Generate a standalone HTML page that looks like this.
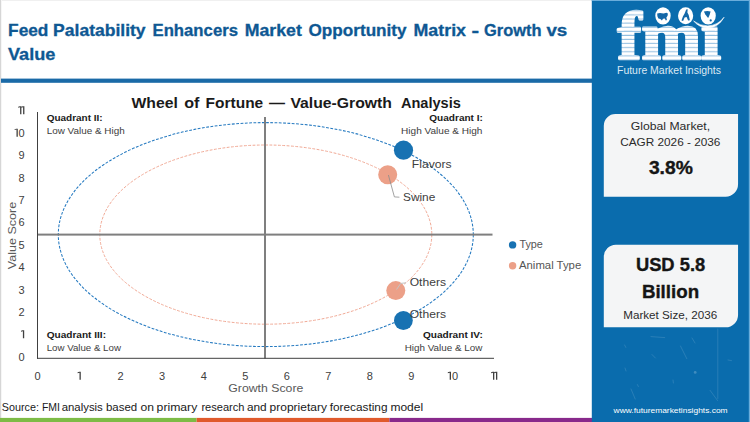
<!DOCTYPE html>
<html>
<head>
<meta charset="utf-8">
<style>
html,body{margin:0;padding:0;background:#fff;}
body{width:750px;height:422px;overflow:hidden;position:relative;font-family:"Liberation Sans",sans-serif;}
svg{position:absolute;left:0;top:0;}
text{font-family:"Liberation Sans",sans-serif;}
text.serif{font-family:"Liberation Serif",serif;}
</style>
</head>
<body>
<svg width="750" height="422" viewBox="0 0 750 422">
  <defs>
    <pattern id="stripes" x="0" y="11.3" width="10" height="4.1" patternUnits="userSpaceOnUse">
      <rect x="0" y="0" width="10" height="3.2" fill="#ffffff"/>
      <rect x="0" y="3.2" width="10" height="0.9" fill="#8fbde0"/>
    </pattern>
  </defs>
  <!-- page bg + border -->
  <rect x="0" y="0" width="750" height="422" fill="#ffffff"/>
  <rect x="0" y="0" width="592" height="1" fill="#f0f0f0"/>
  <rect x="0" y="0" width="1" height="422" fill="#d6d6d6"/>
  <rect x="1" y="0" width="1" height="422" fill="#f6f6f6"/>

  <!-- title -->
  <g fill="#0e5893" stroke="#0e5893" stroke-width="0.3" font-weight="bold" font-size="15.9">
    <text x="8.1" y="35.7" textLength="40.3" lengthAdjust="spacingAndGlyphs">Feed</text>
    <text x="53.1" y="35.7" textLength="92.5" lengthAdjust="spacingAndGlyphs">Palatability</text>
    <text x="152.5" y="35.7" textLength="85.5" lengthAdjust="spacingAndGlyphs">Enhancers</text>
    <text x="244.7" y="35.7" textLength="57.1" lengthAdjust="spacingAndGlyphs">Market</text>
    <text x="308.5" y="35.7" textLength="98.1" lengthAdjust="spacingAndGlyphs">Opportunity</text>
    <text x="413.5" y="35.7" textLength="52.5" lengthAdjust="spacingAndGlyphs">Matrix</text>
    <text x="471.6" y="35.7" textLength="7.6" lengthAdjust="spacingAndGlyphs">-</text>
    <text x="484.0" y="35.7" textLength="57.6" lengthAdjust="spacingAndGlyphs">Growth</text>
    <text x="546.4" y="35.7" textLength="20.9" lengthAdjust="spacingAndGlyphs">vs</text>
    <text x="8" y="60.3" textLength="47.4" lengthAdjust="spacingAndGlyphs">Value</text>
  </g>
  <rect x="1" y="78.6" width="591" height="4.2" fill="#1a6aa7"/>

  <!-- chart title -->
  <g font-size="15.2" font-weight="bold" fill="#1a1a1a">
    <text x="131.4" y="107.8" textLength="46.4" lengthAdjust="spacingAndGlyphs">Wheel</text>
    <text x="184.2" y="107.8" textLength="15.2" lengthAdjust="spacingAndGlyphs">of</text>
    <text x="205.6" y="107.8" textLength="57.6" lengthAdjust="spacingAndGlyphs">Fortune</text>
    <text x="269.1" y="107.8" textLength="16.0" lengthAdjust="spacingAndGlyphs">—</text>
    <text x="290.4" y="107.8" textLength="101.6" lengthAdjust="spacingAndGlyphs">Value-Growth</text>
    <text x="400.9" y="107.8" textLength="60.0" lengthAdjust="spacingAndGlyphs">Analysis</text>
  </g>

  <!-- ellipses -->
  <ellipse cx="265.8" cy="234.6" rx="207.5" ry="112" fill="none" stroke="#2479c0" stroke-width="1.05" stroke-dasharray="2.8 1.5"/>
  <ellipse cx="265.8" cy="234.6" rx="166" ry="89.6" fill="none" stroke="#f1a995" stroke-width="1" stroke-dasharray="2.8 1.5"/>

  <!-- mid lines -->
  <rect x="264" y="117" width="2" height="241.5" fill="#7f7f7f"/>
  <rect x="37.5" y="233.6" width="455" height="2" fill="#7f7f7f"/>
  <!-- axes -->
  <rect x="37" y="112" width="1" height="246.8" fill="#404040"/>
  <rect x="37" y="357.8" width="457" height="1" fill="#404040"/>

  <!-- y labels -->
  <g font-size="11" fill="#404040" text-anchor="end">
    <path d="M24.4,114.3 v-8 h-1.6 l-1.6,0.5 v0.9 l1.9,-0.5 v7.1 z"/><path d="M21.4,114.3 v-8 h-1.6 l-1.6,0.5 v0.9 l1.9,-0.5 v7.1 z"/>
    <path d="M17.8,136.7 v-8 h-1.6 l-1.6,0.5 v0.9 l1.9,-0.5 v7.1 z"/><text x="24.6" y="136.7">0</text>
    <text x="24.5" y="159.1">9</text>
    <text x="24.5" y="181.5">8</text>
    <text x="24.5" y="203.9">7</text>
    <text x="24.5" y="226.3">6</text>
    <text x="24.5" y="248.7">5</text>
    <text x="24.5" y="271.1">4</text>
    <text x="24.5" y="293.5">3</text>
    <text x="24.5" y="315.9">2</text>
    <path d="M24.2,338.3 v-8 h-1.6 l-1.6,0.5 v0.9 l1.9,-0.5 v7.1 z"/>
    <text x="24.5" y="360.7">0</text>
  </g>
  <!-- x labels -->
  <g font-size="11" fill="#404040" text-anchor="middle">
    <text x="37.5" y="379.8">0</text>
    <path d="M80.8,379.8 v-8 h-1.6 l-1.6,0.5 v0.9 l1.9,-0.5 v7.1 z"/>
    <text x="120.6" y="379.8">2</text>
    <text x="162.1" y="379.8">3</text>
    <text x="203.7" y="379.8">4</text>
    <text x="245.2" y="379.8">5</text>
    <text x="286.8" y="379.8">6</text>
    <text x="328.3" y="379.8">7</text>
    <text x="369.9" y="379.8">8</text>
    <text x="411.4" y="379.8">9</text>
    <path d="M451,379.8 v-8 h-1.6 l-1.6,0.5 v0.9 l1.9,-0.5 v7.1 z"/><text x="458" y="379.8" text-anchor="end">0</text>
    <path d="M497.3,379.8 v-8 h-1.6 l-1.6,0.5 v0.9 l1.9,-0.5 v7.1 z"/><path d="M494.3,379.8 v-8 h-1.6 l-1.6,0.5 v0.9 l1.9,-0.5 v7.1 z"/>
  </g>
  <text x="228.3" y="391.6" font-size="11.3" fill="#595959" textLength="75" lengthAdjust="spacingAndGlyphs">Growth Score</text>
  <text transform="translate(15.8,269.2) rotate(-90)" font-size="11.3" fill="#595959" textLength="67.4" lengthAdjust="spacingAndGlyphs">Value Score</text>

  <!-- quadrant labels -->
  <g font-size="8.8" fill="#1a1a1a" lengthAdjust="spacingAndGlyphs">
    <text x="46.7" y="120.7" font-weight="bold" textLength="56" lengthAdjust="spacingAndGlyphs">Quadrant II:</text>
    <text x="46.7" y="134" fill="#404040" textLength="78" lengthAdjust="spacingAndGlyphs">Low Value &amp; High</text>
    <text x="46.7" y="337.7" font-weight="bold" textLength="59.3" lengthAdjust="spacingAndGlyphs">Quadrant III:</text>
    <text x="46.7" y="351" fill="#404040" textLength="74.2" lengthAdjust="spacingAndGlyphs">Low Value &amp; Low</text>
    <text x="429.3" y="120.7" font-weight="bold" textLength="53.6" lengthAdjust="spacingAndGlyphs">Quadrant I:</text>
    <text x="401.1" y="134" fill="#404040" textLength="81.3" lengthAdjust="spacingAndGlyphs">High Value &amp; High</text>
    <text x="422.9" y="337.7" font-weight="bold" textLength="60" lengthAdjust="spacingAndGlyphs">Quadrant IV:</text>
    <text x="404.7" y="351" fill="#404040" textLength="77.6" lengthAdjust="spacingAndGlyphs">High Value &amp; Low</text>
  </g>

  <!-- bubbles -->
  <circle cx="403.5" cy="150.2" r="9.6" fill="#1872b2"/>
  <circle cx="387.7" cy="174.8" r="9.5" fill="#eca088"/>
  <circle cx="395.8" cy="290.6" r="9.5" fill="#eca088"/>
  <circle cx="403.4" cy="320.5" r="9.4" fill="#1872b2"/>
  <polyline points="388.4,175 394.4,196.9 399.4,197.2" fill="none" stroke="#8c8c8c" stroke-width="0.8"/>
  <polyline points="396.5,289.5 400.8,283.4 406,282.8" fill="none" stroke="#c4c4c4" stroke-width="1"/>
  <g font-size="11.5" fill="#404040">
    <text x="411.8" y="168" textLength="39.8" lengthAdjust="spacingAndGlyphs">Flavors</text>
    <text x="403" y="201" textLength="32.3" lengthAdjust="spacingAndGlyphs">Swine</text>
    <text x="409.7" y="286" textLength="36.3" lengthAdjust="spacingAndGlyphs">Others</text>
    <text x="409.7" y="317.7" textLength="36.3" lengthAdjust="spacingAndGlyphs">Others</text>
  </g>

  <!-- legend -->
  <circle cx="512.6" cy="244.9" r="3.7" fill="#1872b2"/>
  <circle cx="512.6" cy="265.7" r="3.7" fill="#eca088"/>
  <g font-size="10.7" fill="#555555">
    <text x="519.4" y="247.7" textLength="23.5" lengthAdjust="spacingAndGlyphs">Type</text>
    <text x="519" y="268.8" textLength="62.2" lengthAdjust="spacingAndGlyphs">Animal Type</text>
  </g>

  <!-- source -->
  <g font-size="11" fill="#1a1a1a">
    <text x="1.8" y="410.7" textLength="37.1" lengthAdjust="spacingAndGlyphs">Source:</text>
    <text x="41.9" y="410.7" textLength="18.0" lengthAdjust="spacingAndGlyphs">FMI</text>
    <text x="61.7" y="410.7" textLength="41.1" lengthAdjust="spacingAndGlyphs">analysis</text>
    <text x="106.0" y="410.7" textLength="31.2" lengthAdjust="spacingAndGlyphs">based</text>
    <text x="140.5" y="410.7" textLength="13.5" lengthAdjust="spacingAndGlyphs">on</text>
    <text x="156.6" y="410.7" textLength="40.7" lengthAdjust="spacingAndGlyphs">primary</text>
    <text x="201.4" y="410.7" textLength="43.1" lengthAdjust="spacingAndGlyphs">research</text>
    <text x="246.9" y="410.7" textLength="19.8" lengthAdjust="spacingAndGlyphs">and</text>
    <text x="269.6" y="410.7" textLength="57.3" lengthAdjust="spacingAndGlyphs">proprietary</text>
    <text x="329.7" y="410.7" textLength="57.8" lengthAdjust="spacingAndGlyphs">forecasting</text>
    <text x="390.4" y="410.7" textLength="32.7" lengthAdjust="spacingAndGlyphs">model</text>
  </g>

  <!-- bottom bar -->
  <rect x="0" y="417.9" width="196.6" height="4.1" fill="#7dbb46"/>
  <rect x="196.6" y="417.9" width="192.8" height="4.1" fill="#e05a2c"/>
  <rect x="389.4" y="417.9" width="202.6" height="4.1" fill="#88298b"/>

  <!-- right panel -->
  <rect x="591.8" y="0" width="158.2" height="422" fill="#0a6cad"/>
  <rect x="591.8" y="0" width="158.2" height="1" fill="#6aaddb"/>
  <rect x="748.8" y="0" width="1.2" height="422" fill="#6aaddb"/>

  <!-- faint panel texture -->
  <g stroke="#ffffff" stroke-opacity="0.16" stroke-width="0.8" fill="none" stroke-linecap="round">
    <path d="M717.8,329 V398.5"/>
    <path d="M710,390.3 L717.6,400.6"/>
    <path d="M651,336.6 L664.7,337.6"/>
    <path d="M624.6,345 L625.8,347.4"/>
    <path d="M631,389 L635.2,399"/>
    <path d="M680.5,346 L686.8,358.7"/>
    <path d="M652,354.5 L655.4,358"/>
    <path d="M625,368 L626,371"/>
    <path d="M673,380 L673.4,383"/>
    <path d="M637.4,384.6 L638.4,386.6"/>
    <path d="M728,360 L731.5,360.6"/>
    <path d="M692,338 L695,343"/>
  </g>
  <circle cx="695.2" cy="372.4" r="1.4" fill="#ffffff" fill-opacity="0.22"/>
  <!-- logo -->
  <g font-size="67" font-weight="bold" fill="url(#stripes)" stroke="url(#stripes)" stroke-width="2.5" stroke-linejoin="round">
    <text class="serif" x="617.6" y="58.8" textLength="103.4" lengthAdjust="spacingAndGlyphs">fmı</text>
  </g>
  <!-- globes -->
  <ellipse cx="663" cy="15.8" rx="7.7" ry="8.6" fill="#ffffff"/>
  <ellipse cx="685.6" cy="15.7" rx="7.6" ry="8.5" fill="#ffffff"/>
  <ellipse cx="708.2" cy="15.8" rx="7.6" ry="8.6" fill="#ffffff"/>
  <path d="M657.2,13.6 L660,12.9 L663.6,13.4 L666.4,12.8 L667.9,13.4 L667.6,15.8 L666.4,17.4 L666.9,20 L665.8,20.5 L664.8,18.5 L663,18.7 L661.9,20.6 L660.3,19 L658.4,18.4 L657.4,16.2 Z" fill="#1468a8"/>
  <path d="M686.2,9.6 L687.7,9.3 L687.4,12.4 L688.7,15 L689.9,20.2 L688.1,20.5 L686.6,17 L684.6,17.6 L683.1,20.9 L681.5,20.6 L682.9,16.4 L684.6,13.6 Z" fill="#1468a8"/>
  <path d="M703.9,11.6 L707.4,10.9 L710.6,11.6 L709.8,14.2 L708.4,17.8 L707.6,17.6 L705.2,14.2 Z" fill="#1468a8"/>
  <circle cx="710.7" cy="20.4" r="1.1" fill="#1468a8"/>
  <path d="M693.6,21 Q699.8,28 707.8,28 Q718.6,27.4 724.1,17.2 Q718,25.4 707.8,25.9 Q700,26 693.6,21 Z" fill="#ffffff" stroke="#ffffff" stroke-width="0.6" stroke-linejoin="round"/>
  <text x="617" y="73.6" font-size="11" fill="#dbe9f4" textLength="104" lengthAdjust="spacingAndGlyphs">Future Market Insights</text>

  <!-- card 1 -->
  <path d="M615.4,114.1 H738.05 V184.3 A12.4,12.4 0 0 1 725.65,196.7 H603.8 V125.7 A11.6,11.6 0 0 1 615.4,114.1 Z" fill="#f4f5f6"/>
  <g fill="#2b2b2b">
    <text x="630.8" y="130.1" font-size="11.3" textLength="79.3" lengthAdjust="spacingAndGlyphs">Global Market,</text>
    <text x="620.2" y="146" font-size="11.3" textLength="100.2" lengthAdjust="spacingAndGlyphs">CAGR 2026 - 2036</text>
    <text x="648.9" y="173.5" font-size="17.7" font-weight="bold" fill="#151515" stroke="#151515" stroke-width="0.35" textLength="43.9" lengthAdjust="spacingAndGlyphs">3.8%</text>
  </g>

  <!-- card 2 -->
  <path d="M615.8,244.8 H738.05 V314.9 A12.4,12.4 0 0 1 725.65,327.3 H603.8 V256.8 A12,12 0 0 1 615.8,244.8 Z" fill="#f4f5f6"/>
  <g fill="#151515">
    <text x="635.9" y="270.7" font-size="17.7" font-weight="bold" stroke="#151515" stroke-width="0.35" textLength="69.3" lengthAdjust="spacingAndGlyphs">USD 5.8</text>
    <text x="641.9" y="297.7" font-size="17.7" font-weight="bold" stroke="#151515" stroke-width="0.35" textLength="57.2" lengthAdjust="spacingAndGlyphs">Billion</text>
    <text x="623.2" y="319.1" font-size="11.3" fill="#2b2b2b" textLength="94" lengthAdjust="spacingAndGlyphs">Market Size, 2036</text>
  </g>

  <text x="670.6" y="413" font-size="7.6" fill="#ffffff" text-anchor="middle" textLength="114" lengthAdjust="spacingAndGlyphs">www.futuremarketinsights.com</text>
</svg>
</body>
</html>
